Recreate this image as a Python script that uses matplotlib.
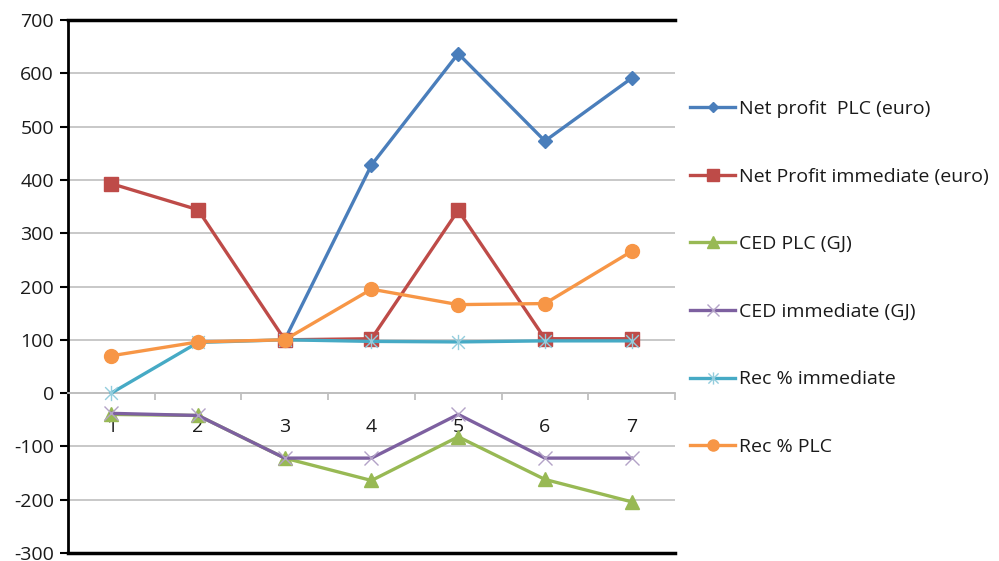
import numpy as np
import matplotlib.pyplot as plt
from matplotlib.path import Path

plt.rcParams['font.family'] = ['Open Sans', 'DejaVu Sans']
plt.rcParams['axes.unicode_minus'] = False

cases = [1, 2, 3, 4, 5, 6, 7]
net_profit_plc = [np.nan, np.nan, 100, 428, 637, 473, 591]
net_profit_immediate = [393, 344, 100, 102, 343, 102, 102]
ced_plc = [-40, -42, -122, -164, -82, -162, -204]
ced_immediate = [-38, -42, -122, -122, -40, -122, -122]
rec_immediate = [0, 95, 100, 97, 96, 98, 98]
rec_plc = [70, 96, 100, 195, 166, 168, 266]

# x with a vertical stroke, like the spreadsheet "star" marker
star = Path([(-1, -1), (1, 1), (-1, 1), (1, -1), (0, -1.2), (0, 1.2)],
            [Path.MOVETO, Path.LINETO, Path.MOVETO, Path.LINETO,
             Path.MOVETO, Path.LINETO])

fig = plt.figure(figsize=(9.99, 5.61), dpi=100)
ax = fig.add_axes([0.068, 0.0143, 0.6077, 0.95])

x = np.array(cases)
ax.plot(x, net_profit_plc, color='#4a7ebb', lw=2.4, marker='D', ms=7,
        label='Net profit  PLC (euro)', zorder=3)
ax.plot(x, net_profit_immediate, color='#be4b48', lw=2.4, marker='s', ms=10,
        label='Net Profit immediate (euro)', zorder=3)
ax.plot(x, ced_plc, color='#98b954', lw=2.4, marker='^', ms=10,
        label='CED PLC (GJ)', zorder=3)
ax.plot(x, ced_immediate, color='#7d60a0', lw=2.4, marker='x', ms=10, mew=1.0,
        mec='#b3a2c7', label='CED immediate (GJ)', zorder=3)
ax.plot(x, rec_immediate, color='#46aac5', lw=2.4, marker=star, ms=11, mew=1.0,
        mec='#93cddd', label='Rec % immediate', zorder=4)
ax.plot(x, rec_plc, color='#f79646', lw=2.4, marker='o', ms=10,
        label='Rec % PLC', zorder=5)

ax.set_xlim(0.5, 7.5)
ax.set_ylim(-300, 700)
ax.set_yticks(np.arange(-300, 701, 100))
ax.yaxis.grid(True, color='#c4c4c4', lw=1.3)
ax.set_axisbelow(True)

# category axis sits on the zero line
ax.spines['bottom'].set_position(('data', 0))
ax.spines['bottom'].set_color('#bfbfbf')
ax.spines['bottom'].set_linewidth(1.3)
ax.spines['right'].set_visible(False)
ax.spines['left'].set_linewidth(2)
ax.spines['top'].set_linewidth(2.5)
ax.axhline(-300, color='black', lw=2.5, clip_on=False)

ax.set_xticks(x)
ax.set_xticks(np.arange(0.5, 8, 1), minor=True)
ax.tick_params(axis='x', which='major', length=0, pad=18, labelsize=14,
               labelcolor='#1a1a1a')
ax.tick_params(axis='x', which='minor', length=5, color='#bfbfbf', width=1.3)
ax.tick_params(axis='y', length=6, width=1.5, labelsize=14, pad=4,
               labelcolor='#1a1a1a')

leg = fig.legend(loc='upper left', bbox_to_anchor=(0.691, 1 - 100 / 561),
                 frameon=False, fontsize=14, labelspacing=2.55,
                 handlelength=2.3, handletextpad=0.2, borderpad=0,
                 borderaxespad=0, markerscale=0.8)
for t in leg.get_texts():
    t.set_color('#1a1a1a')

fig.savefig('out.png', dpi=100)
